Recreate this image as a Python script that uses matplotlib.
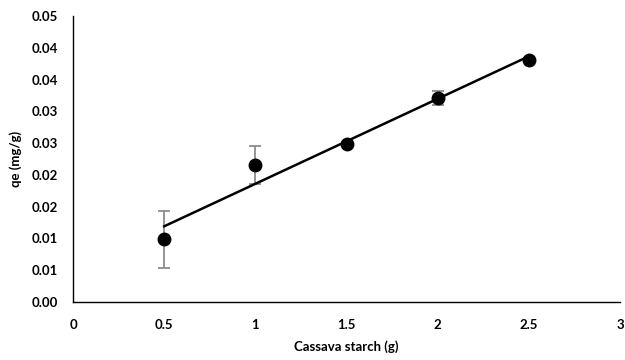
import numpy as np
import matplotlib
matplotlib.use("Agg")
import matplotlib.pyplot as plt

# adsorption capacity vs. starch dose
starch_g = [0.5, 1.0, 1.5, 2.0, 2.5]
qe_mg_g = [0.00987, 0.0216, 0.02481, 0.03205, 0.03808]
qe_err = [0.0045, 0.003, 0.0003, 0.0011, 0.0003]

x_ticks = [0, 0.5, 1, 1.5, 2, 2.5, 3]
x_tick_labels = ["0", "0.5", "1", "1.5", "2", "2.5", "3"]
y_ticks = [0, 0.005, 0.01, 0.015, 0.02, 0.025, 0.03, 0.035, 0.04, 0.045]
y_tick_labels = ["0.00", "0.01", "0.01", "0.02", "0.02",
                 "0.03", "0.03", "0.04", "0.04", "0.05"]

plt.rcParams["font.family"] = ["Lato", "DejaVu Sans"]
plt.rcParams["font.weight"] = "bold"

fig = plt.figure(figsize=(6.25, 3.6), dpi=100)
ax = fig.add_axes([0.1168, 0.1611, 0.8752, 0.7945])

ax.errorbar(starch_g, qe_mg_g, yerr=qe_err, fmt="none", ecolor="#8c8c8c",
            elinewidth=1.3, capsize=4, capthick=1.3, zorder=2)

# linear trendline over the measured range
slope, intercept = np.polyfit(starch_g, qe_mg_g, 1)
fit_x = np.array([starch_g[0], starch_g[-1]])
ax.plot(fit_x, slope * fit_x + intercept, color="black", linewidth=1.8, zorder=3)

ax.plot(starch_g, qe_mg_g, "o", color="black", markersize=9, zorder=4)

ax.set_xlim(0, 3)
ax.set_ylim(0, 0.045)
ax.set_xticks(x_ticks)
ax.set_xticklabels(x_tick_labels)
ax.set_yticks(y_ticks)
ax.set_yticklabels(y_tick_labels)
ax.tick_params(axis="both", length=0, labelsize=9.5)
ax.tick_params(axis="x", pad=12)
ax.tick_params(axis="y", pad=11)

for side in ["top", "right"]:
    ax.spines[side].set_visible(False)
for side in ["left", "bottom"]:
    ax.spines[side].set_color("black")
    ax.spines[side].set_linewidth(1.0)

ax.set_xlabel("Cassava starch (g)", fontsize=9.5, fontweight="bold", labelpad=7)
ax.set_ylabel("qe (mg/g)", fontsize=9.5, fontweight="bold", labelpad=7)

fig.savefig("out.png", dpi=100)
